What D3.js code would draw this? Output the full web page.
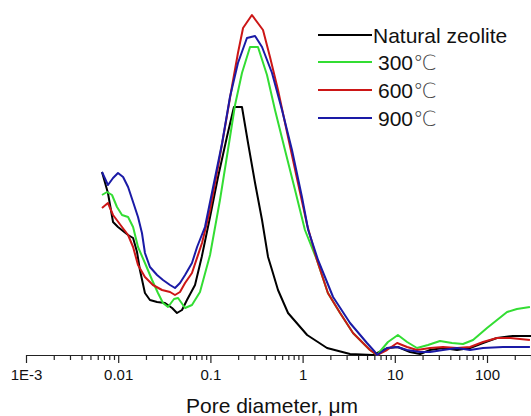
<!DOCTYPE html>
<html>
<head>
<meta charset="utf-8">
<script src="https://cdn.jsdelivr.net/npm/d3@7"></script>
<style>
  html, body { margin: 0; padding: 0; background: #fff; }
  text { font-family: Arial, "Liberation Sans", sans-serif; }
</style>
</head>
<body>
<svg id="chart-pores" width="531" height="416"></svg>
<script>
// === DATA: pore diameter (µm) och dV/dlogD (relativ) ===
const naturalZeolite = [
  [0.00667, 0.183], [0.00774, 0.162], [0.00879, 0.133], [0.00995, 0.128], [0.0128, 0.120],
  [0.0145, 0.117], [0.0160, 0.103], [0.0172, 0.085], [0.0195, 0.062], [0.0221, 0.055],
  [0.0264, 0.053], [0.0322, 0.052], [0.0384, 0.047], [0.0434, 0.042], [0.0492, 0.045],
  [0.0557, 0.055], [0.0681, 0.070], [0.0805, 0.098], [0.0991, 0.138], [0.121, 0.178],
  [0.151, 0.218], [0.180, 0.248], [0.220, 0.248], [0.256, 0.212], [0.305, 0.172],
  [0.363, 0.135], [0.422, 0.098], [0.466, 0.085], [0.541, 0.065], [0.695, 0.042],
  [1.12, 0.020], [1.84, 0.007], [3.27, 0.001], [5.81, 0.000], [8.43, 0.007],
  [10.8, 0.008], [14.6, 0.003], [18.8, 0.001], [24.1, 0.005], [33.3, 0.007],
  [47.3, 0.005], [65.5, 0.007], [90.5, 0.012], [128, 0.017], [191, 0.019], [300, 0.019]
];

const calc300 = [
  [0.00667, 0.160], [0.00757, 0.163], [0.00857, 0.160], [0.00970, 0.148], [0.0110, 0.140],
  [0.0128, 0.138], [0.0145, 0.128], [0.0164, 0.108], [0.0195, 0.092], [0.0233, 0.075],
  [0.0270, 0.062], [0.0306, 0.052], [0.0347, 0.048], [0.0403, 0.056], [0.0446, 0.057],
  [0.0531, 0.047], [0.0631, 0.050], [0.0771, 0.063], [0.0991, 0.100], [0.127, 0.155],
  [0.155, 0.205], [0.185, 0.250], [0.220, 0.282], [0.269, 0.308], [0.328, 0.308],
  [0.411, 0.280], [0.502, 0.245], [0.644, 0.205], [0.828, 0.165], [1.06, 0.125],
  [1.43, 0.095], [1.88, 0.062], [2.55, 0.042], [3.52, 0.022], [5.38, 0.005],
  [6.41, 0.000], [8.43, 0.013], [10.8, 0.020], [13.6, 0.013], [17.4, 0.007],
  [22.9, 0.010], [30.9, 0.014], [41.7, 0.012], [54.9, 0.011], [70.5, 0.015],
  [100, 0.027], [165, 0.043], [211, 0.046], [292, 0.048]
];

const calc600 = [
  [0.00667, 0.147], [0.00774, 0.152], [0.00879, 0.140], [0.0110, 0.128], [0.0128, 0.120],
  [0.0145, 0.108], [0.0164, 0.090], [0.0195, 0.078], [0.0238, 0.070], [0.0299, 0.065],
  [0.0365, 0.063], [0.0413, 0.060], [0.0468, 0.063], [0.0531, 0.072], [0.0631, 0.082],
  [0.0811, 0.112], [0.0991, 0.145], [0.121, 0.188], [0.144, 0.228], [0.171, 0.268],
  [0.199, 0.302], [0.226, 0.327], [0.282, 0.340], [0.372, 0.325], [0.443, 0.298],
  [0.541, 0.265], [0.695, 0.218], [0.891, 0.172], [1.12, 0.130], [1.43, 0.095],
  [1.88, 0.062], [2.55, 0.042], [3.52, 0.022], [5.38, 0.005], [6.41, 0.000],
  [8.22, 0.005], [10.6, 0.012], [13.6, 0.008], [17.4, 0.005], [24.1, 0.007],
  [33.3, 0.008], [47.3, 0.007], [65.5, 0.008], [90.5, 0.013], [128, 0.017],
  [178, 0.017], [292, 0.015]
];

const calc900 = [
  [0.00667, 0.183], [0.00774, 0.170], [0.00879, 0.177], [0.00995, 0.182], [0.0113, 0.178],
  [0.0128, 0.168], [0.0145, 0.153], [0.0164, 0.138], [0.0181, 0.122], [0.0195, 0.102],
  [0.0221, 0.088], [0.0264, 0.080], [0.0306, 0.075], [0.0365, 0.070], [0.0413, 0.067],
  [0.0468, 0.072], [0.0531, 0.080], [0.0631, 0.092], [0.0717, 0.108], [0.0873, 0.128],
  [0.107, 0.168], [0.134, 0.212], [0.163, 0.258], [0.199, 0.292], [0.249, 0.317],
  [0.305, 0.319], [0.363, 0.308], [0.466, 0.282], [0.598, 0.245], [0.767, 0.205],
  [0.984, 0.158], [1.15, 0.125], [1.47, 0.095], [2.14, 0.058], [3.27, 0.032],
  [4.99, 0.012], [6.10, 0.003], [6.41, 0.000], [8.22, 0.007], [10.6, 0.008],
  [13.6, 0.005], [18.8, 0.003], [24.1, 0.003], [33.3, 0.005], [47.3, 0.007],
  [65.5, 0.005], [90.5, 0.007], [149, 0.008], [292, 0.008]
];

const seriesNames = ["Natural zeolite", "300", "600", "900"];
const seriesUnits = ["", "℃", "℃", "℃"];
const seriesData = [naturalZeolite, calc300, calc600, calc900];
const seriesColors = ["#000000", "#33dd33", "#cc1616", "#1a1aa6"];

const majorTicks = [0.001, 0.01, 0.1, 1, 10, 100];
const majorTickLabels = ["1E-3", "0.01", "0.1", "1", "10", "100"];
const xDomain = [0.001, 300];
const yDomain = [0, 0.345];

// === SVG setup ===
const svg = d3.select("#chart-pores");
const width = +svg.attr("width");
const height = +svg.attr("height");
const margin = { top: 10, right: 0, bottom: 61, left: 26 };

const xScale = d3.scaleLog()
  .domain(xDomain)
  .range([margin.left, width - margin.right]);

const yScale = d3.scaleLinear()
  .domain(yDomain)
  .range([height - margin.bottom, margin.top]);

// minor ticks 2..9 per dekad
const minorTicks = [];
majorTicks.forEach(m => {
  for (let k = 2; k <= 9; k++) {
    if (m * k <= xDomain[1]) minorTicks.push(m * k);
  }
});

// === X-axel ===
const axisY = height - margin.bottom;

svg.append("g")
  .attr("transform", `translate(0, ${axisY})`)
  .call(d3.axisBottom(xScale).tickValues(minorTicks).tickSize(5).tickSizeOuter(0).tickFormat(""))
  .call(g => g.selectAll("line, path").attr("stroke", "#222").attr("stroke-width", 1.2));

const majorAxis = svg.append("g")
  .attr("transform", `translate(0, ${axisY})`)
  .call(d3.axisBottom(xScale)
    .tickValues(majorTicks)
    .tickSize(8)
    .tickSizeOuter(0)
    .tickPadding(6)
    .tickFormat((d, i) => majorTickLabels[i]));

majorAxis.selectAll("line, path").attr("stroke", "#222").attr("stroke-width", 1.2);
majorAxis.selectAll("text")
  .attr("font-family", "Arial, 'Liberation Sans', sans-serif")
  .attr("font-size", "15px")
  .attr("fill", "#111");

// === Linjer ===
const linePath = d3.line()
  .x(d => xScale(d[0]))
  .y(d => yScale(d[1]));

svg.selectAll(".pore-line")
  .data(seriesData)
  .enter()
  .append("path")
  .attr("class", "pore-line")
  .attr("d", d => linePath(d))
  .attr("fill", "none")
  .attr("stroke", (d, i) => seriesColors[i])
  .attr("stroke-width", 2)
  .attr("stroke-linejoin", "round");

// === Legend ===
const legendRows = [35, 62, 90, 118];
const legend = svg.append("g");

seriesNames.forEach((name, i) => {
  legend.append("line")
    .attr("x1", 318)
    .attr("x2", 372)
    .attr("y1", legendRows[i])
    .attr("y2", legendRows[i])
    .attr("stroke", seriesColors[i])
    .attr("stroke-width", 2);

  const label = legend.append("text")
    .attr("x", i === 0 ? 373 : 378)
    .attr("y", legendRows[i])
    .attr("dy", "0.36em")
    .attr("font-size", "21px")
    .attr("fill", "#111")
    .text(name);

  // gradtecknet lite tunnare, som i originalet
  if (seriesUnits[i]) {
    label.append("tspan")
      .attr("font-family", "'DejaVu Sans', sans-serif")
      .attr("font-weight", 200)
      .attr("fill", "#444")
      .text(seriesUnits[i]);
  }
});

// === Titel ===
svg.append("text")
  .attr("x", 272)
  .attr("y", 413)
  .attr("text-anchor", "middle")
  .attr("font-size", "21px")
  .attr("fill", "#111")
  .text("Pore diameter, μm");
</script>
</body>
</html>
